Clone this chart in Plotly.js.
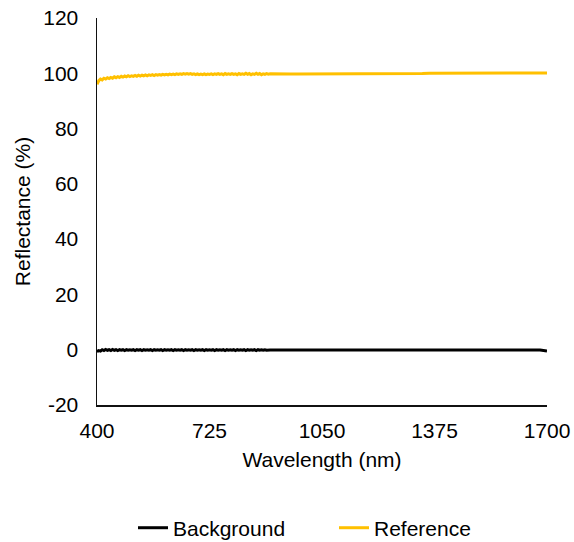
<!DOCTYPE html>
<html>
<head>
<meta charset="utf-8">
<script src="https://cdn.plot.ly/plotly-3.0.1.min.js"></script>
<style>
  html, body { margin: 0; padding: 0; background: #fff; }
  #chart { width: 574px; height: 542px; }
</style>
</head>
<body>
<div id="chart"></div>
<script>
// Visible range: 5 nm sampling (silicon detector), NIR range: 20 nm sampling
const wavelengthVis = [];
for (let w = 400; w <= 900; w += 5) wavelengthVis.push(w);
const wavelengthNir = [];
for (let w = 920; w <= 1700; w += 20) wavelengthNir.push(w);

const referenceVis = [
  96.0, 97.3, 97.9, 97.6, 98.2, 97.9, 98.4, 98.1, 98.5, 98.2,
  98.7, 98.4, 98.8, 98.5, 98.9, 98.6, 99.0, 98.7, 99.1, 98.8,
  99.1, 98.9, 99.2, 98.9, 99.3, 99.0, 99.3, 99.1, 99.4, 99.1,
  99.4, 99.2, 99.5, 99.2, 99.5, 99.3, 99.5, 99.3, 99.6, 99.4,
  99.6, 99.4, 99.7, 99.5, 99.7, 99.5, 99.8, 99.6, 99.8, 99.6,
  99.9, 99.7, 99.9, 99.7, 99.9, 99.6, 99.8, 99.5, 99.8, 99.5,
  99.7, 99.5, 99.8, 99.5, 99.7, 99.6, 99.8, 99.5, 99.8, 99.6,
  99.9, 99.6, 99.8, 99.5, 99.9, 99.6, 99.8, 99.6, 99.9, 99.6,
  99.8, 99.5, 99.9, 99.6, 99.8, 99.6, 100.0, 99.6, 99.9, 99.5,
  99.8, 99.6, 100.0, 99.6, 99.9, 99.5, 99.8, 99.6, 99.9, 99.7,
  99.8
];
const referenceNir = [
  99.7, 99.7, 99.7, 99.7, 99.7, 99.8, 99.8, 99.8, 99.8, 99.8,
  99.8, 99.8, 99.8, 99.9, 99.9, 99.9, 99.9, 99.9, 99.9, 99.9,
  99.9, 99.9, 100.0, 100.0, 100.0, 100.0, 99.9, 99.9, 99.9, 99.9,
  99.9, 99.9, 99.9, 99.9, 99.9, 99.9, 99.9, 99.9, 100.0, 100.1
];

const backgroundVis = [
  -0.7, -0.3, -0.5, 0.0, -0.3, 0.1, -0.2, 0.0, -0.3, 0.1,
  -0.2, 0.0, -0.3, 0.0, -0.2, 0.0, -0.3, 0.0, -0.2, 0.0,
  -0.2, 0.0, -0.3, 0.0, -0.2, 0.0, -0.3, 0.0, -0.2, 0.0,
  -0.2, 0.0, -0.3, 0.0, -0.2, 0.0, -0.2, 0.0, -0.3, 0.0,
  -0.2, 0.0, -0.2, 0.0, -0.3, 0.0, -0.2, 0.0, -0.2, 0.0,
  -0.3, 0.0, -0.2, 0.0, -0.2, 0.0, -0.3, 0.0, -0.2, 0.0,
  -0.2, 0.0, -0.3, 0.0, -0.2, 0.0, -0.2, 0.0, -0.3, 0.0,
  -0.2, 0.0, -0.2, 0.0, -0.3, 0.0, -0.2, 0.0, -0.2, 0.0,
  -0.3, 0.0, -0.2, 0.0, -0.2, 0.0, -0.3, 0.0, -0.2, 0.0,
  -0.2, 0.0, -0.3, 0.0, -0.2, 0.0, -0.2, 0.0, -0.2, -0.1,
  -0.1
];
const backgroundNir = [
  -0.1, -0.1, -0.1, -0.1, -0.1, -0.1, -0.1, -0.1, -0.1, -0.1,
  -0.1, -0.1, -0.1, -0.1, -0.1, -0.1, -0.1, -0.1, -0.1, -0.1,
  -0.1, -0.1, -0.1, -0.1, -0.1, -0.1, -0.1, -0.1, -0.1, -0.1,
  -0.1, -0.1, -0.1, -0.1, -0.1, -0.1, -0.1, -0.1, -0.1, -0.5
];

const seriesNames = ['Background', 'Reference'];
const seriesColors = ['#000000', '#FFC000'];
const xTicks = [400, 725, 1050, 1375, 1700];
const yTicks = [-20, 0, 20, 40, 60, 80, 100, 120];

const wavelength = wavelengthVis.concat(wavelengthNir);
const background = backgroundVis.concat(backgroundNir);
const reference = referenceVis.concat(referenceNir);

const font = { family: 'Liberation Sans, Arial, sans-serif', size: 21, color: '#000' };

const traces = [
  { x: wavelength, y: background, name: seriesNames[0], type: 'scatter', mode: 'lines',
    line: { color: seriesColors[0], width: 3 } },
  { x: wavelength, y: reference, name: seriesNames[1], type: 'scatter', mode: 'lines',
    line: { color: seriesColors[1], width: 3 } }
];

const layout = {
  width: 574, height: 542, autosize: false,
  margin: { l: 97, r: 27, t: 18, b: 137, autoexpand: false },
  paper_bgcolor: '#fff', plot_bgcolor: '#fff',
  font: font,
  showlegend: true,
  legend: {
    orientation: 'h', x: 0.08, xanchor: 'left',
    y: -0.318, yanchor: 'middle', font: font,
    entrywidth: 156, entrywidthmode: 'pixels'
  },
  xaxis: {
    range: [400, 1700], tickvals: xTicks, ticktext: xTicks.map(String), tickangle: 0,
    automargin: false,
    showgrid: false, zeroline: false, showline: true, linecolor: '#111', linewidth: 1.5,
    ticks: '', ticklabelstandoff: 6,
    title: { text: 'Wavelength (nm)', font: font, standoff: 11 }
  },
  yaxis: {
    range: [-20, 120], tickvals: yTicks, ticktext: yTicks.map(String),
    automargin: false,
    showgrid: false, zeroline: false, showline: true, linecolor: '#111', linewidth: 1.5,
    ticks: '', ticklabelstandoff: 13,
    title: { text: 'Reflectance (%)', font: font, standoff: 7 }
  }
};

Plotly.newPlot('chart', traces, layout, { displayModeBar: false, staticPlot: true });
</script>
</body>
</html>
